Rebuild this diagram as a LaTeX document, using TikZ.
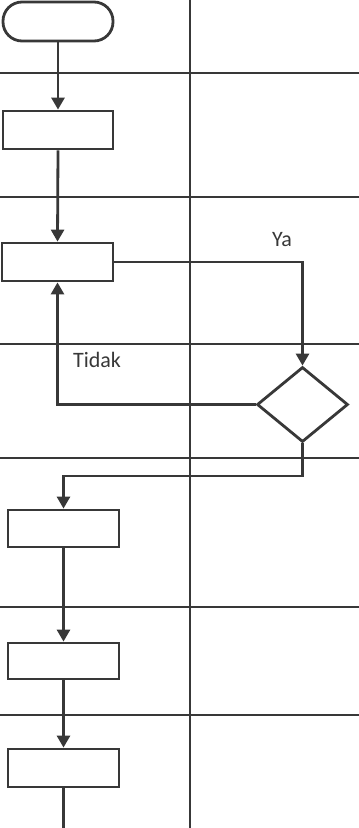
\documentclass[tikz,border=0pt]{standalone}
\usepackage{fontspec}
\setmainfont{Carlito}
\usetikzlibrary{shapes.geometric,arrows.meta}
\definecolor{ink}{HTML}{383838}
\tikzset{
  lane/.style={ink, line width=2.8pt},
  box/.style={draw=ink, fill=white, line width=2.8pt, rectangle, inner sep=0pt, minimum width=111pt, minimum height=38pt},
  term/.style={box, rounded corners=19pt, minimum width=110pt, minimum height=39pt},
  decision/.style={draw=ink, fill=white, line width=2.8pt, diamond, aspect=1.2, inner sep=0pt, minimum width=91pt, minimum height=75pt},
  flow/.style={ink, line width=2.8pt, -{Triangle[width=13pt,length=12pt]}},
  plain/.style={ink, line width=2.8pt},
  lbl/.style={text=ink, font=\fontsize{22}{24}\selectfont, inner sep=0pt}
}
\begin{document}
\begin{tikzpicture}[x=1pt,y=-1pt]
\useasboundingbox (0,0) rectangle (359,828);
% swimlane grid
\coordinate (vt) at (190,0);
\coordinate (vb) at (190,828);
\draw[lane] (vt) -- (vb);
\foreach \yy in {73,197,344,458,607,715}{
  \draw[lane] (0,\yy) -- (359,\yy);
}
% nodes
\node[term] (start) at (58,21.5) {};
\node[box, minimum width=110pt] (b1) at (58,130) {};
\node[box] (b2) at (57.5,262) {};
\node[decision] (dia) at (302.5,404.5) {};
\node[box, minimum height=37pt] (b3) at (63.5,528.5) {};
\node[box, minimum height=36pt] (b4) at (63.5,661) {};
\node[box] (b5) at (63.5,768) {};
\coordinate (bend) at (302.5,476);
\coordinate (endpt) at (63.5,829);
% labels
\node[lbl] (ya) at (282,240) {Ya};
\node[lbl] (tidak) at (97,360) {Tidak};
% connectors
\draw[flow] (start.south) -- (b1.north);
\draw[flow] (b1.south) -- (b2.north);
\draw[flow] (b2.east) -| (dia.north);
\draw[flow] (dia.west) -| (b2.south);
\draw[flow] (dia.south) -- (bend) -| (b3.north);
\draw[flow] (b3.south) -- (b4.north);
\draw[flow] (b4.south) -- (b5.north);
\draw[plain] (b5.south) -- (endpt);
\end{tikzpicture}
\end{document}
